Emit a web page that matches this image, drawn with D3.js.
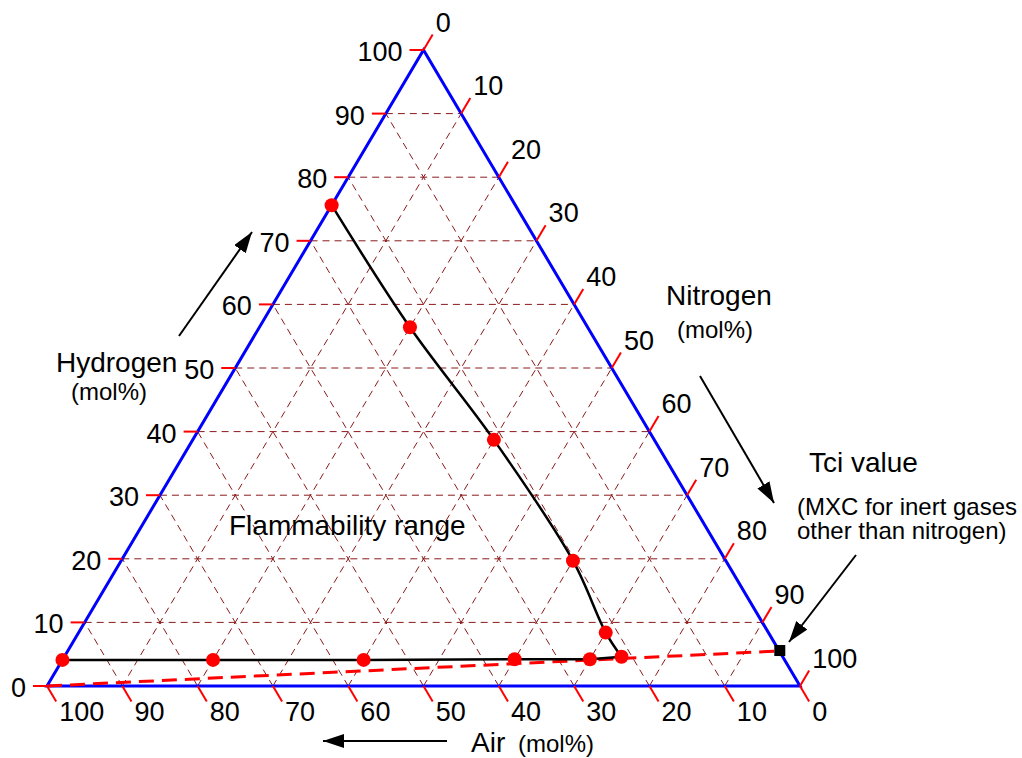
<!DOCTYPE html>
<html>
<head>
<meta charset="utf-8">
<script src="https://cdn.jsdelivr.net/npm/d3@7"></script>
<style>
  body { margin: 0; background: #fff; }
  svg { display: block; font-family: "Liberation Sans", Arial, sans-serif; }
</style>
</head>
<body>
<svg id="svg" width="1022" height="758"></svg>
<script>
// ternary: Air (bottom-left corner), Nitrogen (bottom-right), Hydrogen (top)
const tickValues = [0, 10, 20, 30, 40, 50, 60, 70, 80, 90, 100];
const gridValues = [10, 20, 30, 40, 50, 60, 70, 80, 90];

// lower flammability limit, mol% N2 and mol% H2
const lflNitrogen = [0, 20, 40, 60, 70];
const lflHydrogen = [4.1, 4.1, 4.1, 4.2, 4.2];
// nose of the envelope
const noseNitrogen = [74];
const noseHydrogen = [4.6];
// upper flammability limit
const uflNitrogen = [70, 60, 40, 20, 0];
const uflHydrogen = [8.4, 19.7, 38.7, 56.4, 75.6];
// Tci point on the air = 0 side
const tciNitrogen = [94.5];
const tciHydrogen = [5.5];

const svg = d3.select('#svg');
const margin = {left: 47, right: 222, top: 50, bottom: 72};

// x runs with N + H/2, y with H
const xScale = d3.scaleLinear().domain([0, 100]).range([margin.left, 1022 - margin.right]);
const yScale = d3.scaleLinear().domain([0, 100]).range([758 - margin.bottom, margin.top]);

const pt = (n, h) => [xScale(n + h / 2), yScale(h)];

const cornerA = pt(0, 0), cornerN = pt(100, 0), cornerH = pt(0, 100);
const len = (v) => Math.hypot(v[0], v[1]);
const leftDir = [cornerH[0] - cornerA[0], cornerH[1] - cornerA[1]].map((d, i, a) => d / len(a));
const rightDir = [cornerN[0] - cornerH[0], cornerN[1] - cornerH[1]].map((d, i, a) => d / len(a));

const defs = svg.append('defs');
defs.append('marker')
    .attr('id', 'head')
    .attr('markerUnits', 'userSpaceOnUse')
    .attr('markerWidth', 24).attr('markerHeight', 16)
    .attr('refX', 21).attr('refY', 7)
    .attr('orient', 'auto')
    .append('path')
    .attr('d', 'M0,0 L21,7 L0,14 Z')
    .attr('fill', '#000');

// grid
const grid = svg.append('g')
    .attr('stroke', '#8b1a1a')
    .attr('stroke-width', 1)
    .attr('stroke-dasharray', '7,5')
    .attr('fill', 'none');

gridValues.forEach(k => {
    // constant hydrogen
    grid.append('line').datum([pt(0, k), pt(100 - k, k)])
        .attr('x1', d => d[0][0]).attr('y1', d => d[0][1])
        .attr('x2', d => d[1][0]).attr('y2', d => d[1][1]);
    // constant nitrogen
    grid.append('line').datum([pt(k, 0), pt(k, 100 - k)])
        .attr('x1', d => d[0][0]).attr('y1', d => d[0][1])
        .attr('x2', d => d[1][0]).attr('y2', d => d[1][1]);
    // constant air
    grid.append('line').datum([pt(100 - k, 0), pt(0, 100 - k)])
        .attr('x1', d => d[0][0]).attr('y1', d => d[0][1])
        .attr('x2', d => d[1][0]).attr('y2', d => d[1][1]);
});

// triangle frame
svg.append('path')
    .attr('d', d3.line()([cornerA, cornerN, cornerH]) + 'Z')
    .attr('fill', 'none')
    .attr('stroke', '#0000ff')
    .attr('stroke-width', 3)
    .attr('stroke-linejoin', 'miter');

// ticks + labels
const tickG = svg.append('g').attr('stroke', '#ff0000').attr('stroke-width', 2);
const labelG = svg.append('g').attr('font-size', 27).attr('fill', '#000');

tickValues.forEach(v => {
    // hydrogen, left side
    const p = pt(0, v);
    tickG.append('line').attr('x1', p[0]).attr('y1', p[1]).attr('x2', p[0] - 14).attr('y2', p[1]);
    labelG.append('text').attr('x', p[0] - 21).attr('y', p[1] + 11)
        .attr('text-anchor', 'end').text(v);

    // nitrogen, right side
    const q = pt(v, 100 - v);
    const qe = [q[0] + 18 * leftDir[0], q[1] + 18 * leftDir[1]];
    tickG.append('line').attr('x1', q[0]).attr('y1', q[1]).attr('x2', qe[0]).attr('y2', qe[1]);
    labelG.append('text').attr('x', qe[0] + 3).attr('y', qe[1] - 3).text(v);

    // air, bottom
    const r = pt(100 - v, 0);
    const re = [r[0] + 18 * rightDir[0], r[1] + 18 * rightDir[1]];
    tickG.append('line').attr('x1', r[0]).attr('y1', r[1]).attr('x2', re[0]).attr('y2', re[1]);
    labelG.append('text').attr('x', re[0] + 3).attr('y', re[1] + 20).text(v);
});

// dashed red line from the air corner to Tci
const tci = pt(tciNitrogen[0], tciHydrogen[0]);
svg.append('line')
    .attr('x1', cornerA[0]).attr('y1', cornerA[1])
    .attr('x2', tci[0]).attr('y2', tci[1])
    .attr('stroke', '#ff0000')
    .attr('stroke-width', 3)
    .attr('stroke-dasharray', '15,8');

// flammability envelope
const lower = lflNitrogen.map((n, i) => pt(n, lflHydrogen[i]))
    .concat(noseNitrogen.map((n, i) => pt(n, noseHydrogen[i])));
const upper = noseNitrogen.map((n, i) => pt(n, noseHydrogen[i]))
    .concat(uflNitrogen.map((n, i) => pt(n, uflHydrogen[i])));

svg.append('path')
    .attr('d', d3.line()(lower))
    .attr('fill', 'none').attr('stroke', '#000').attr('stroke-width', 2.5);
svg.append('path')
    .attr('d', d3.line().curve(d3.curveCatmullRom.alpha(0.5))(upper))
    .attr('fill', 'none').attr('stroke', '#000').attr('stroke-width', 2.5);

svg.append('g').attr('fill', '#ff0000')
    .selectAll('circle')
    .data(lower.concat(upper.slice(1)))
    .enter()
    .append('circle')
    .attr('cx', d => d[0])
    .attr('cy', d => d[1])
    .attr('r', 7);

svg.append('rect')
    .attr('x', tci[0] - 5).attr('y', tci[1] - 6)
    .attr('width', 11).attr('height', 11)
    .attr('fill', '#000');

// arrows
const arrows = [
    [[179, 336], [252, 232]],
    [[700, 376], [774, 503]],
    [[856, 555], [789, 642]],
    [[447, 741], [323, 741]]
];
svg.append('g').selectAll('line').data(arrows).enter().append('line')
    .attr('x1', d => d[0][0]).attr('y1', d => d[0][1])
    .attr('x2', d => d[1][0]).attr('y2', d => d[1][1])
    .attr('stroke', '#000').attr('stroke-width', 2)
    .attr('marker-end', 'url(#head)');

// titles
const titles = [
    {t: 'Hydrogen', x: 56, y: 372, s: 28},
    {t: '(mol%)', x: 71, y: 400, s: 24},
    {t: 'Nitrogen', x: 666, y: 305, s: 28},
    {t: '(mol%)', x: 677, y: 338, s: 24},
    {t: 'Air', x: 471, y: 752, s: 28},
    {t: '(mol%)', x: 518, y: 752, s: 24},
    {t: 'Flammability range', x: 229, y: 535, s: 28},
    {t: 'Tci value', x: 809, y: 472, s: 28},
    {t: '(MXC for inert gases', x: 797, y: 515, s: 24},
    {t: 'other than nitrogen)', x: 797, y: 539, s: 24}
];
svg.append('g').selectAll('text').data(titles).enter().append('text')
    .attr('x', d => d.x).attr('y', d => d.y)
    .attr('font-size', d => d.s)
    .text(d => d.t);
</script>
</body>
</html>
